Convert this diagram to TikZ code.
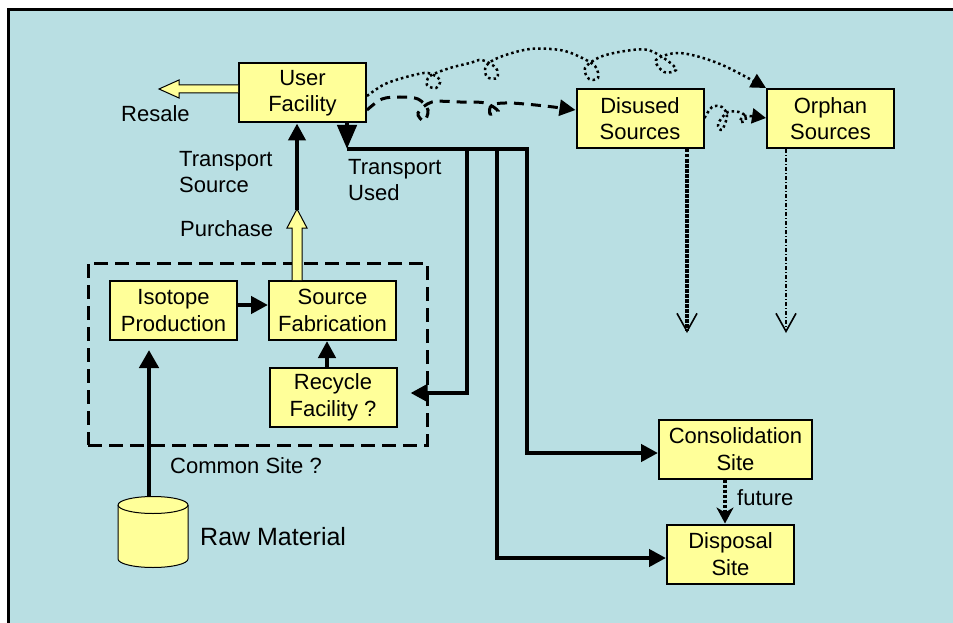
\documentclass[tikz,border=0pt]{standalone}
\usepackage{fontspec}
\setmainfont{Liberation Sans}
\usetikzlibrary{arrows.meta}
\definecolor{bgblue}{RGB}{185,223,227}
\definecolor{boxyellow}{RGB}{255,255,153}
\begin{document}
\begin{tikzpicture}[x=1pt,y=-1pt,
  lbl/.style={font=\fontsize{22}{26.5}\selectfont, inner sep=0pt, align=left},
  stepbox/.style={draw, line width=2pt, fill=boxyellow, align=center, inner sep=0pt,
    font=\fontsize{22}{26.5}\selectfont, minimum width=127pt, minimum height=59pt},
  conn/.style={line width=4.5pt, line join=miter},
  tri/.style={-{Triangle[length=17pt,width=17pt]}},
  vhead/.style={-{Straight Barb[length=18pt,width=20pt,line width=1.6pt]}},
  fatarrow/.style={draw=black, line width=1pt, fill=boxyellow, line join=miter},
]
\useasboundingbox (0,0) rectangle (953,623);
% sheet and frame
\fill[white] (0,0) rectangle (953,623);
\fill[bgblue] (8.5,10) rectangle (953,623);
\draw[line width=3pt] (8.5,623) -- (8.5,10) -- (953,10);

% common site outline
\node[draw, line width=3pt, dash pattern=on 14pt off 7pt, minimum width=339pt,
  minimum height=182pt, inner sep=0pt] (site) at (257.5,354) {};

% facilities
\node[stepbox] (uf)   at (302.5,93)  {User\\Facility};
\node[stepbox] (dis)  at (640,118.5) {Disused\\Sources};
\node[stepbox] (orph) at (830.5,118.5) {Orphan\\Sources};
\node[stepbox] (iso)  at (173.5,310.5) {Isotope\\Production};
\node[stepbox] (src)  at (332.5,310.5) {Source\\Fabrication};
\node[stepbox] (rec)  at (333,397.5) {Recycle\\Facility ?};
\node[stepbox, minimum width=153pt] (cons) at (735.5,449) {Consolidation\\Site};
\node[stepbox] (disp) at (730.5,554) {Disposal\\Site};

% raw material drum
\filldraw[fill=boxyellow, line width=1pt]
  (118,505) -- (118,559) arc[start angle=180, end angle=360, x radius=35pt, y radius=8.5pt]
  -- (188,505) arc[start angle=0, end angle=180, x radius=35pt, y radius=8.5pt] -- cycle;
\draw[line width=1pt] (118,505) arc[start angle=180, end angle=360, x radius=35pt, y radius=8.5pt];
\coordinate (raw) at (149,497);

% labels
\node[lbl, anchor=base west] (resale) at (121,122) {Resale};
\node[lbl, anchor=north west] (tsrc) at (179,151) {Transport\\Source};
\node[lbl, anchor=base west] (purch) at (180,236) {Purchase};
\node[lbl, anchor=north west] (tused) at (348,159) {Transport\\Used};
\node[lbl, anchor=base west] (csite) at (170,473) {Common Site ?};
\node[font=\fontsize{25}{30}\selectfont, inner sep=0pt, anchor=base west] (rawlbl) at (200,545) {Raw Material};
\node[lbl, anchor=base west] (fut) at (737,505) {future};

% resale and purchase block arrows
\path[fatarrow] (uf.west |- 0,85) -- (179,85) -- (179,80) -- (159,89) -- (179,98)
  -- (179,93) -- (uf.west |- 0,93);
\path[fatarrow] (src.north -| 292,0) -- (292,228) -- (287,228) -- (297,209)
  -- (307,228) -- (302,228) -- (src.north -| 302,0);
\coordinate (ptip) at (297,210);
\draw[conn, tri] (ptip) -- (uf.south -| ptip);

% production chain
\draw[conn, tri] (iso.east |- 0,305) -- (src.west |- 0,305);
\draw[conn, tri] (rec.north -| 327,0) -- (src.south -| 327,0);
\draw[conn, shorten >=9pt, -{Triangle[length=18pt,width=19pt]}] (raw) -- (iso.south -| raw);

% used sources leaving the user facility
\coordinate (tu) at (347,149);
\coordinate (b1) at (467,149);
\coordinate (b2) at (497,149);
\coordinate (b3) at (527,149);
\draw[conn, -{Triangle[length=24pt,width=19pt]}] (uf.south -| tu) -- (tu);
\draw[conn, tri] (tu) -- (b3) -- (527,453) -- (cons.west |- 0,453);
\draw[conn, tri] (b1) -- (467,393) -- ([xshift=13pt]rec.east |- 0,393);
\draw[conn, tri] (b2) -- (497,558) -- (disp.west |- 0,558);

% consolidation to disposal
\draw[line width=3.5pt, dash pattern=on 3pt off 2pt,
  -{Stealth[length=16pt,width=17pt,inset=5pt]}] (cons.south -| 725,0) -- (disp.north -| 725,0);

% disused and orphan sources going down
\draw[line width=4.5pt, dash pattern=on 3.5pt off 1.5pt, vhead] (dis.south -| 687,0) -- (687,333);
\draw[line width=1.6pt, dash pattern=on 4pt off 2pt on 1pt off 2pt, vhead] (orph.south -| 786,0) -- (786,333);

% loose paths between the source stages
\draw[line width=3pt, dash pattern=on 10pt off 7pt, -{Triangle[length=16pt,width=16pt]}]
  plot[smooth, tension=0.55] coordinates {(uf.east |- 0,110) (382,99) (400,97) (418,99)
  (428,110) (424,121) (418,113) (432,102) (460,102) (485,103) (498,111) (490,114)
  (492,105) (510,103) (545,106) (dis.west |- 0,110)};
\draw[line width=2.5pt, dash pattern=on 2.5pt off 3pt, -{Triangle[length=15pt,width=15pt]}]
  plot[smooth, tension=0.55] coordinates {(uf.east |- 0,96) (385,84) (410,76) (428,73)
  (440,80) (436,88) (427,85) (430,76) (450,68) (470,63) (482,60) (496,68) (497,78)
  (487,77) (486,66) (500,57) (530,49) (560,50) (578,56) (595,66) (598,78) (589,79)
  (585,68) (600,57) (625,51) (648,50) (668,61) (676,70) (664,72) (656,60) (680,53)
  (720,64) (orph.north west)};
\draw[line width=2.5pt, dash pattern=on 2.5pt off 3pt, -{Triangle[length=14pt,width=15pt]}]
  plot[smooth, tension=0.55] coordinates {(dis.east |- 0,118) (712,107) (722,107)
  (727,116) (722,130) (718,124) (728,112) (742,113) (746,120) (740,122) (745,116)
  (orph.west |- 0,118)};
\end{tikzpicture}
\end{document}
